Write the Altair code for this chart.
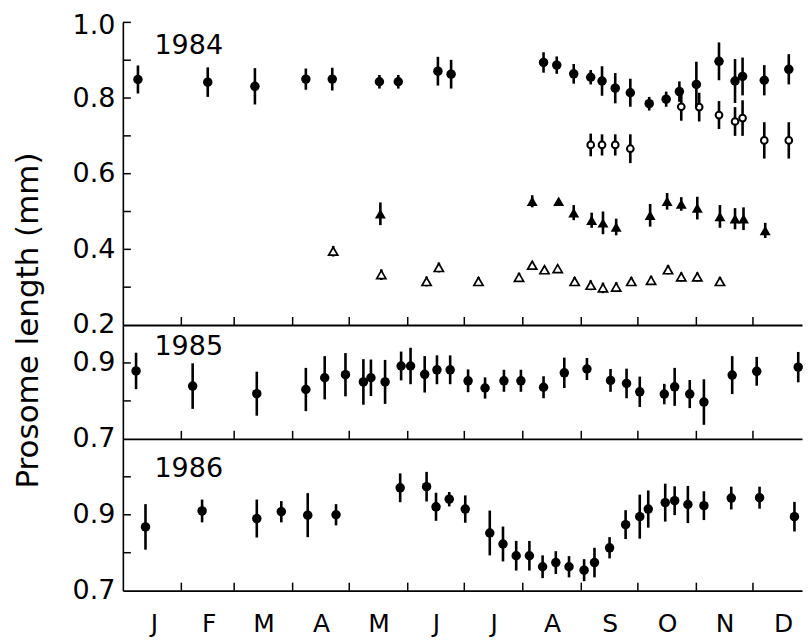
import json
import altair as alt
import pandas as pd

FONT = "DejaVu Sans"

# ---------------- data (day of year, mean prosome length, half error bar) -------------
# 1984 - filled circles
d84_fc = [8, 45, 70, 97, 111, 136, 146, 167, 174, 223, 230, 239, 248, 254, 261, 269, 279, 288, 295, 304, 316, 324.5, 328.5, 340, 353]
m84_fc = [0.849, 0.842, 0.831, 0.850, 0.850, 0.843, 0.843, 0.871, 0.863, 0.894, 0.887, 0.864, 0.855, 0.845, 0.826, 0.814, 0.785, 0.797, 0.817, 0.836, 0.897, 0.845, 0.857, 0.847, 0.876]
e84_fc = [0.037, 0.039, 0.048, 0.028, 0.030, 0.018, 0.018, 0.038, 0.038, 0.027, 0.023, 0.026, 0.019, 0.039, 0.040, 0.037, 0.018, 0.020, 0.027, 0.060, 0.050, 0.058, 0.050, 0.040, 0.040]
# 1984 - open circles
d84_oc = [248, 254, 261, 269, 296, 305.5, 316, 324.5, 328.5, 340, 353]
m84_oc = [0.676, 0.676, 0.676, 0.666, 0.777, 0.776, 0.755, 0.738, 0.747, 0.688, 0.688]
e84_oc = [0.030, 0.028, 0.028, 0.038, 0.037, 0.038, 0.037, 0.038, 0.047, 0.048, 0.048]
# 1984 - filled triangles
d84_ft = [136.5, 217, 231, 239, 248.5, 254.5, 261.5, 279.5, 288.5, 296, 304.5, 316.5, 324.5, 329, 340.5]
m84_ft = [0.494, 0.527, 0.527, 0.497, 0.477, 0.470, 0.459, 0.490, 0.527, 0.520, 0.509, 0.487, 0.481, 0.481, 0.450]
e84_ft = [0.030, 0.016, 0.000, 0.020, 0.020, 0.030, 0.022, 0.030, 0.022, 0.018, 0.030, 0.030, 0.028, 0.030, 0.020]
# 1984 - open triangles
d84_ot = [111.5, 137, 161, 167.5, 188.5, 210, 217, 223.5, 230.5, 239.5, 248, 254.5, 261.5, 269.5, 280, 289, 296, 304.5, 316.5]
m84_ot = [0.395, 0.333, 0.315, 0.352, 0.315, 0.326, 0.358, 0.346, 0.349, 0.315, 0.305, 0.298, 0.300, 0.315, 0.318, 0.346, 0.327, 0.327, 0.315]
e84_ot = [0.014, 0.014, 0.013, 0.013, 0.012, 0.012, 0.010, 0.010, 0.010, 0.012, 0.013, 0.014, 0.013, 0.012, 0.012, 0.012, 0.012, 0.012, 0.012]

# 1985 - filled circles
d85 = [7, 37, 71, 97, 107, 118, 127.5, 131.5, 139, 147.5, 152.5, 160, 166.5, 173.5, 183, 192, 202, 211, 223, 234, 246, 258.5, 267, 274, 287, 292.5, 300.5, 308, 323, 336, 358]
m85 = [0.879, 0.839, 0.819, 0.830, 0.861, 0.869, 0.850, 0.861, 0.850, 0.892, 0.892, 0.870, 0.882, 0.882, 0.853, 0.834, 0.853, 0.853, 0.836, 0.874, 0.884, 0.854, 0.846, 0.824, 0.818, 0.837, 0.818, 0.797, 0.868, 0.878, 0.889]
e85 = [0.048, 0.060, 0.058, 0.057, 0.057, 0.057, 0.060, 0.048, 0.058, 0.038, 0.048, 0.048, 0.038, 0.038, 0.030, 0.028, 0.029, 0.029, 0.029, 0.040, 0.029, 0.030, 0.039, 0.040, 0.027, 0.050, 0.037, 0.060, 0.050, 0.038, 0.040]

# 1986 - filled circles
d86 = [12, 42, 71, 84, 98, 113, 147, 161, 166, 173, 181.5, 194.5, 201.5, 208.5, 215.5, 222.5, 229.5, 236.5, 244.5, 250, 258, 266.5, 274, 278.5, 287.5, 292.5, 299.5, 308, 322.5, 337.5, 356]
m86 = [0.868, 0.910, 0.890, 0.908, 0.899, 0.900, 0.971, 0.974, 0.921, 0.941, 0.915, 0.852, 0.823, 0.792, 0.792, 0.763, 0.774, 0.763, 0.754, 0.774, 0.813, 0.874, 0.895, 0.915, 0.932, 0.937, 0.927, 0.924, 0.944, 0.945, 0.895]
e86 = [0.060, 0.030, 0.050, 0.028, 0.058, 0.028, 0.038, 0.039, 0.037, 0.019, 0.036, 0.059, 0.046, 0.039, 0.039, 0.030, 0.030, 0.028, 0.029, 0.039, 0.028, 0.038, 0.058, 0.049, 0.050, 0.038, 0.049, 0.038, 0.030, 0.029, 0.039]

# axis text
month_labels = ["J", "F", "M", "A", "M", "J", "J", "A", "S", "O", "N", "D"]
month_mid_days = [16.5, 45.5, 74.5, 105, 135.5, 166, 196.5, 227.5, 258, 288.5, 319, 350]
month_start_days = [31, 59, 90, 120, 151, 181, 212, 243, 273, 304, 334]
years = ["1984", "1985", "1986"]
y_title = "Prosome length (mm)"


def frame(d, m, e):
    return pd.DataFrame({"day": d, "m": m, "lo": [a - b for a, b in zip(m, e)], "hi": [a + b for a, b in zip(m, e)]})


XS = alt.Scale(domain=[0, 360], nice=False, zero=False)
W = 680


def panel(height, ydom, yticks, year, year_y, series, x_axis, y_axis):
    ys = alt.Scale(domain=ydom, nice=False, zero=False)
    X = lambda f: alt.X(f, scale=XS, axis=x_axis)
    Y = lambda f: alt.Y(f, scale=ys, axis=y_axis)
    layers = []
    for df, kind in series:
        layers.append(
            alt.Chart(df)
            .mark_rule(color="black", strokeWidth=2.6)
            .encode(x=X("day:Q"), y=Y("lo:Q"), y2="hi:Q")
        )
        if kind == "fc":
            mk = alt.Chart(df).mark_point(shape="circle", filled=True, color="black", size=90, opacity=1)
        elif kind == "oc":
            mk = alt.Chart(df).mark_point(shape="circle", filled=True, fill="white", stroke="black",
                                          strokeWidth=2, size=45, opacity=1)
        elif kind == "ft":
            mk = alt.Chart(df).mark_point(shape="triangle-up", filled=True, color="black", size=120, opacity=1)
        else:
            mk = alt.Chart(df).mark_point(shape="triangle-up", filled=True, fill="white", stroke="black",
                                          strokeWidth=1.7, size=85, opacity=1)
        layers.append(mk.encode(x=X("day:Q"), y=Y("m:Q")))
    # month ticks (upward from the bottom line)
    layers.append(
        alt.Chart(pd.DataFrame({"d": month_start_days}))
        .mark_rule(color="black", strokeWidth=1.5)
        .encode(x=X("d:Q"), y=alt.value(height - 8), y2=alt.value(height))
    )
    # inward left ticks
    layers.append(
        alt.Chart(pd.DataFrame({"v": yticks}))
        .mark_rule(color="black", strokeWidth=1.5)
        .encode(y=Y("v:Q"), x=alt.value(0), x2=alt.value(8))
    )
    layers.append(
        alt.Chart(pd.DataFrame({"t": [year]}))
        .mark_text(font=FONT, fontSize=27, color="black", align="center", baseline="alphabetic")
        .encode(text="t:N", x=alt.value(66), y=alt.value(year_y))
    )
    return alt.layer(*layers).properties(width=W, height=height)


def yaxis(values, title=None):
    kw = dict(values=values, format=".1f", domain=True, ticks=False, grid=False, labelPadding=8,
              labelFontSize=27, labelFont=FONT, labelColor="black", labelOverlap=False, labelFlush=False,
              domainColor="black", domainWidth=1.6)
    if title:
        kw.update(title=title, titleAngle=270, titleX=-85, titleY=298, titleAlign="center",
                  titleBaseline="alphabetic", titleFontSize=31, titleFont=FONT, titleFontWeight="normal",
                  titleColor="black",
                  labelOffset={"condition": {"test": "datum.value > 0.95", "value": 3}, "value": 0})
    else:
        kw.update(title="")
    return alt.Axis(**kw)


x_plain = alt.Axis(labels=False, ticks=False, grid=False, title="", domain=True,
                   domainColor="black", domainWidth=1.8)
label_expr = "%s[round((datum.value - 15.5) / 30.4)]" % json.dumps(month_labels)
x_months = alt.Axis(values=month_mid_days, labelExpr=label_expr, ticks=False, grid=False, title="",
                    domain=True, domainColor="black", domainWidth=1.8, labelFontSize=25, labelFont=FONT,
                    labelColor="black", labelPadding=21, labelFlush=False, labelOverlap=False)

p84 = panel(303, [0.2, 1.0], [0.3, 0.4, 0.5, 0.6, 0.7, 0.8, 0.9, 1.0], years[0], 32,
            [(frame(d84_ot, m84_ot, e84_ot), "ot"), (frame(d84_ft, m84_ft, e84_ft), "ft"),
             (frame(d84_oc, m84_oc, e84_oc), "oc"), (frame(d84_fc, m84_fc, e84_fc), "fc")],
            x_plain, yaxis([0.2, 0.4, 0.6, 0.8, 1.0], y_title))
p85 = panel(114, [0.7, 1.0], [0.8, 0.9], years[1], 30,
            [(frame(d85, m85, e85), "fc")], x_plain, yaxis([0.7, 0.9]))
p86 = panel(152, [0.7, 1.1], [0.8, 0.9, 1.0], years[2], 38,
            [(frame(d86, m86, e86), "fc")], x_months, yaxis([0.7, 0.9]))

chart = (
    alt.vconcat(p84, p85, p86, spacing=0, bounds="flush")
    .properties(padding={"left": 5, "top": 3, "right": 0, "bottom": 0}, background="white")
    .configure_view(stroke=None)
)

chart.save("out.html", embed_options={"renderer": "svg", "actions": False})
